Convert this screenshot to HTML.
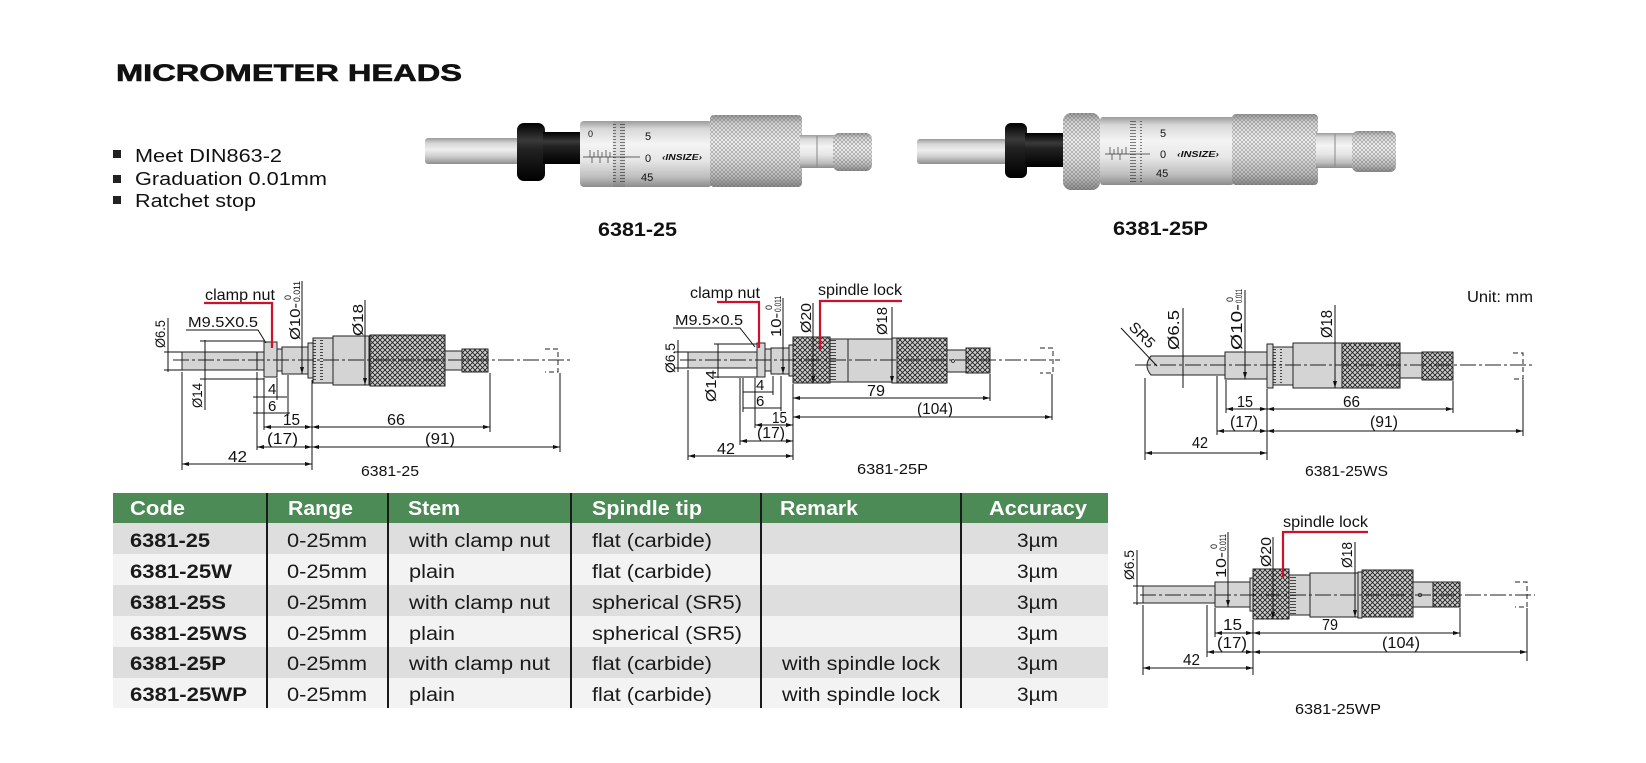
<!DOCTYPE html>
<html><head><meta charset="utf-8"><style>
html,body{margin:0;padding:0;background:#fff;}
svg{display:block}
text{font-family:"Liberation Sans",Arial,sans-serif;fill:#111}
.o{fill:#d4d4d4;stroke:#222;stroke-width:1}
.k{fill:url(#kn);stroke:#222;stroke-width:1}
.l{stroke:#111;stroke-width:1;fill:none}
.dm{stroke:#111;stroke-width:1;fill:none;marker-start:url(#ar);marker-end:url(#ar)}
.de{stroke:#111;stroke-width:1;fill:none;marker-end:url(#ar)}
.cl{stroke:#222;stroke-width:.9;stroke-dasharray:16 3 3 3;fill:none}
.rd{stroke:#d0102a;stroke-width:2.2;fill:none}
.ds{stroke:#222;stroke-width:1;stroke-dasharray:5 3;fill:none}
.th{fill:#fff;font-weight:bold;font-size:20px}
.tc{font-size:19px;fill:#1a1a1a}
.tb{font-size:19px;font-weight:bold;fill:#1a1a1a}
</style></head><body>
<svg width="1646" height="763" viewBox="0 0 1646 763" xmlns="http://www.w3.org/2000/svg">
<defs>
<marker id="ar" viewBox="0 0 7 4" refX="7" refY="2" markerWidth="7" markerHeight="4" markerUnits="userSpaceOnUse" orient="auto-start-reverse"><path d="M0,0L7,2L0,4z" fill="#111"/></marker>
<pattern id="kn" width="5" height="5" patternUnits="userSpaceOnUse"><rect width="5" height="5" fill="#cfcfcf"/><path d="M0,0L5,5M5,0L0,5" stroke="#222" stroke-width="0.9"/></pattern>
<pattern id="tk" width="10" height="3" patternUnits="userSpaceOnUse"><line x1="0" y1="1.5" x2="6" y2="1.5" stroke="#222" stroke-width="0.8"/></pattern>
<pattern id="pk" width="4" height="4" patternUnits="userSpaceOnUse"><path d="M0,0L4,4M4,0L0,4" stroke="#5a5a5a" stroke-width="0.6" stroke-opacity="0.6"/></pattern>
<linearGradient id="gs" x1="0" y1="0" x2="0" y2="1"><stop offset="0" stop-color="#9c9c9c"/><stop offset="0.12" stop-color="#d8d8d8"/><stop offset="0.35" stop-color="#f4f4f4"/><stop offset="0.6" stop-color="#e6e6e6"/><stop offset="0.85" stop-color="#bdbdbd"/><stop offset="1" stop-color="#8c8c8c"/></linearGradient>
<linearGradient id="gr" x1="0" y1="0" x2="0" y2="1"><stop offset="0" stop-color="#9a9a9a"/><stop offset="0.2" stop-color="#d6d6d6"/><stop offset="0.45" stop-color="#eeeeee"/><stop offset="0.7" stop-color="#cfcfcf"/><stop offset="1" stop-color="#8e8e8e"/></linearGradient>
<linearGradient id="gb" x1="0" y1="0" x2="0" y2="1"><stop offset="0" stop-color="#000"/><stop offset="0.3" stop-color="#3a3a3a"/><stop offset="0.45" stop-color="#222"/><stop offset="1" stop-color="#000"/></linearGradient>
</defs>

<!-- Title & bullets -->
<text x="116" y="81" font-size="24" font-weight="bold" stroke="#111" stroke-width="0.6" textLength="346" lengthAdjust="spacingAndGlyphs">MICROMETER HEADS</text>
<rect x="113" y="150" width="8" height="8" fill="#222"/>
<rect x="113" y="175" width="8" height="8" fill="#222"/>
<rect x="113" y="196" width="8" height="8" fill="#222"/>
<text x="135" y="162" font-size="18" textLength="147" lengthAdjust="spacingAndGlyphs">Meet DIN863-2</text>
<text x="135" y="185" font-size="18" textLength="192" lengthAdjust="spacingAndGlyphs">Graduation 0.01mm</text>
<text x="135" y="207" font-size="18" textLength="121" lengthAdjust="spacingAndGlyphs">Ratchet stop</text>

<!-- Photo 1 -->
<rect x="425" y="138" width="94" height="26" rx="3" fill="url(#gr)"/>
<rect x="517" y="123" width="28" height="58" rx="7" fill="url(#gb)"/>
<rect x="543" y="132" width="40" height="32" fill="url(#gb)"/>
<rect x="580" y="121" width="132" height="66" rx="4" fill="url(#gs)"/>
<rect x="613" y="121" width="12" height="66" fill="#000" opacity="0.06"/>
<rect x="613" y="124" width="12" height="60" fill="url(#tk)" opacity="0.7"/>
<line x1="583" y1="157" x2="640" y2="157" stroke="#333" stroke-width="0.8"/>
<path d="M590,150V157M594,152V157M598,150V157M602,152V157M606,150V157M610,152V157M592,157V163M600,157V163M608,157V163" stroke="#333" stroke-width="0.7"/>
<text x="588" y="137" font-size="9">0</text>
<text x="645" y="140" font-size="11">5</text>
<text x="645" y="162" font-size="11">0</text>
<text x="641" y="181" font-size="11">45</text>
<text x="662" y="160" font-size="8" font-weight="bold" font-style="italic" textLength="40" lengthAdjust="spacingAndGlyphs">‹INSIZE›</text>
<rect x="710" y="115" width="92" height="72" rx="4" fill="url(#gs)"/>
<rect x="710" y="115" width="92" height="72" rx="4" fill="url(#pk)"/>
<rect x="800" y="135" width="35" height="33" fill="url(#gs)"/>
<line x1="817" y1="136" x2="817" y2="167" stroke="#888" stroke-width="1"/>
<rect x="833" y="133" width="39" height="38" rx="6" fill="url(#gs)"/>
<rect x="833" y="133" width="39" height="38" rx="6" fill="url(#pk)"/>
<text x="598" y="236" font-size="19" font-weight="bold" textLength="79" lengthAdjust="spacingAndGlyphs">6381-25</text>

<!-- Photo 2 -->
<rect x="917" y="139" width="90" height="25" rx="3" fill="url(#gr)"/>
<rect x="1005" y="123" width="22" height="55" rx="6" fill="url(#gb)"/>
<rect x="1025" y="133" width="40" height="34" fill="url(#gb)"/>
<rect x="1100" y="117" width="134" height="68" rx="3" fill="url(#gs)"/>
<rect x="1063" y="113" width="37" height="77" rx="8" fill="url(#gs)"/>
<rect x="1063" y="113" width="37" height="77" rx="8" fill="url(#pk)"/>
<rect x="1130" y="120" width="12" height="62" fill="url(#tk)" opacity="0.7"/>
<line x1="1105" y1="154" x2="1150" y2="154" stroke="#333" stroke-width="0.8"/>
<path d="M1110,147V154M1114,149V154M1118,147V154M1122,149V154M1126,147V154M1112,154V160M1120,154V160" stroke="#333" stroke-width="0.7"/>
<text x="1160" y="137" font-size="11">5</text>
<text x="1160" y="158" font-size="11">0</text>
<text x="1156" y="177" font-size="11">45</text>
<text x="1177" y="157" font-size="8" font-weight="bold" font-style="italic" textLength="42" lengthAdjust="spacingAndGlyphs">‹INSIZE›</text>
<rect x="1232" y="114" width="86" height="71" rx="4" fill="url(#gs)"/>
<rect x="1232" y="114" width="86" height="71" rx="4" fill="url(#pk)"/>
<rect x="1316" y="133" width="38" height="35" fill="url(#gs)"/>
<line x1="1335" y1="134" x2="1335" y2="167" stroke="#888" stroke-width="1"/>
<rect x="1352" y="131" width="44" height="41" rx="6" fill="url(#gs)"/>
<rect x="1352" y="131" width="44" height="41" rx="6" fill="url(#pk)"/>
<text x="1113" y="235" font-size="19" font-weight="bold" textLength="95" lengthAdjust="spacingAndGlyphs">6381-25P</text>

<!-- Drawing 1: 6381-25 -->
<rect class="o" x="182" y="352" width="82" height="18"/>
<line class="l" x1="257" y1="352" x2="257" y2="370"/>
<rect class="o" x="264" y="342" width="13" height="35"/>
<rect class="o" x="277" y="349" width="5" height="22"/>
<rect class="o" x="282" y="347" width="26" height="27"/>
<rect class="o" x="308" y="343" width="5" height="35"/>
<rect class="o" x="313" y="338" width="20" height="45"/>
<rect x="313" y="339" width="10" height="43" fill="url(#tk)"/>
<rect class="o" x="333" y="336" width="36" height="49"/>
<rect class="k" x="370" y="335" width="75" height="51"/>
<rect class="o" x="445" y="351" width="17" height="19"/>
<rect class="k" x="462" y="349" width="26" height="23"/>
<path class="ds" d="M545,349H558V372H545"/>
<path class="cl" d="M173,360H570"/>
<line class="l" x1="168" y1="318" x2="168" y2="372"/>
<path class="l" d="M164,352H182M164,370H182"/>
<text transform="translate(165,348) rotate(-90)" font-size="14" textLength="28" lengthAdjust="spacingAndGlyphs">Ø6.5</text>
<path class="l" d="M200,341H264M200,379H264"/>
<line class="l" x1="205" y1="340" x2="205" y2="410"/>
<text transform="translate(202,408) rotate(-90)" font-size="14" textLength="25" lengthAdjust="spacingAndGlyphs">Ø14</text>
<text x="188" y="327" font-size="15" textLength="70" lengthAdjust="spacingAndGlyphs">M9.5X0.5</text>
<path class="l" d="M186,330H258L266,343"/>
<text x="205" y="300" font-size="16" textLength="70" lengthAdjust="spacingAndGlyphs">clamp nut</text>
<path class="rd" d="M204,303H272V348"/>
<path class="de" d="M302,281V374"/>
<g transform="translate(300,340) rotate(-90)"><text font-size="15" textLength="37" lengthAdjust="spacingAndGlyphs">Ø10-</text><text x="38" font-size="9" textLength="21" lengthAdjust="spacingAndGlyphs">0.011</text><text x="40" y="-9" font-size="9">0</text></g>
<path class="de" d="M365,300V385"/>
<text transform="translate(363,336) rotate(-90)" font-size="15" textLength="32" lengthAdjust="spacingAndGlyphs">Ø18</text>
<path class="l" d="M182,372V470M257,372V450M264,378V430M277,378V400M288,375V416M312,380V470M490,373V432M560,373V452"/>
<line class="l" x1="253" y1="397" x2="287" y2="397"/>
<text x="268" y="394" font-size="15">4</text>
<line class="l" x1="253" y1="413" x2="290" y2="413"/>
<text x="268" y="411" font-size="15">6</text>
<path class="dm" d="M264,427H312"/>
<path class="dm" d="M312,427H490"/>
<text x="283" y="425" font-size="16" textLength="17" lengthAdjust="spacingAndGlyphs">15</text>
<text x="387" y="425" font-size="16" textLength="18" lengthAdjust="spacingAndGlyphs">66</text>
<path class="dm" d="M257,447H312"/>
<path class="dm" d="M312,447H560"/>
<text x="267" y="444" font-size="16" textLength="31" lengthAdjust="spacingAndGlyphs">(17)</text>
<text x="425" y="444" font-size="16" textLength="30" lengthAdjust="spacingAndGlyphs">(91)</text>
<path class="dm" d="M182,464H312"/>
<text x="228" y="462" font-size="16" textLength="19" lengthAdjust="spacingAndGlyphs">42</text>
<text x="361" y="476" font-size="15" textLength="58" lengthAdjust="spacingAndGlyphs">6381-25</text>

<!-- Drawing 2: 6381-25P -->
<rect class="o" x="688" y="352" width="69" height="16"/>
<rect class="o" x="757" y="343" width="8" height="34"/>
<rect class="o" x="765" y="349" width="6" height="22"/>
<rect class="o" x="771" y="348" width="18" height="26"/>
<rect class="o" x="789" y="345" width="4" height="31"/>
<rect class="k" x="793" y="337" width="37" height="46"/>
<rect class="o" x="830" y="339" width="18" height="43"/>
<rect x="830" y="340" width="9" height="41" fill="url(#tk)"/>
<rect class="o" x="848" y="339" width="44" height="43"/>
<rect class="o" x="892" y="338" width="5" height="45"/>
<rect class="k" x="897" y="338" width="50" height="45"/>
<rect class="o" x="947" y="350" width="19" height="22"/>
<circle cx="953" cy="361" r="1.5" fill="none" stroke="#222" stroke-width="0.8"/>
<rect class="k" x="966" y="348" width="24" height="25"/>
<path class="ds" d="M1040,348H1053V373H1040"/>
<path class="cl" d="M680,360H1060"/>
<line class="l" x1="678" y1="340" x2="678" y2="372"/>
<path class="l" d="M674,352H688M674,368H688"/>
<text transform="translate(675,373) rotate(-90)" font-size="14" textLength="30" lengthAdjust="spacingAndGlyphs">Ø6.5</text>
<path class="l" d="M714,344H757M714,377H757"/>
<line class="l" x1="718" y1="344" x2="718" y2="378"/>
<text transform="translate(716,402) rotate(-90)" font-size="15" textLength="32" lengthAdjust="spacingAndGlyphs">Ø14</text>
<text x="675" y="325" font-size="15" textLength="68" lengthAdjust="spacingAndGlyphs">M9.5×0.5</text>
<path class="l" d="M673,328H740L755,347"/>
<text x="690" y="298" font-size="16" textLength="70" lengthAdjust="spacingAndGlyphs">clamp nut</text>
<path class="rd" d="M717,302H759V348"/>
<text x="818" y="295" font-size="16" textLength="84" lengthAdjust="spacingAndGlyphs">spindle lock</text>
<path class="rd" d="M902,301H820V350"/>
<path class="de" d="M783,298V374"/>
<g transform="translate(781,337) rotate(-90)"><text font-size="15" textLength="24" lengthAdjust="spacingAndGlyphs">10-</text><text x="25" font-size="9" textLength="16" lengthAdjust="spacingAndGlyphs">0.011</text><text x="27" y="-9" font-size="9">0</text></g>
<path class="de" d="M813,303V383"/>
<text transform="translate(811,333) rotate(-90)" font-size="15" textLength="30" lengthAdjust="spacingAndGlyphs">Ø20</text>
<path class="de" d="M892,307V383"/>
<text transform="translate(887,335) rotate(-90)" font-size="15" textLength="28" lengthAdjust="spacingAndGlyphs">Ø18</text>
<path class="l" d="M688,370V460M740,378V445M743,378V412M755,378V428M773,376V395M781,376V411M793,384V460M990,374V401M1052,374V420"/>
<line class="l" x1="743" y1="392" x2="773" y2="392"/>
<text x="756" y="390" font-size="15">4</text>
<line class="l" x1="743" y1="408" x2="781" y2="408"/>
<text x="756" y="406" font-size="15">6</text>
<path class="dm" d="M755,425H793"/>
<text x="772" y="423" font-size="16" textLength="15" lengthAdjust="spacingAndGlyphs">15</text>
<path class="dm" d="M793,398H990"/>
<text x="867" y="396" font-size="16" textLength="18" lengthAdjust="spacingAndGlyphs">79</text>
<path class="dm" d="M793,417H1052"/>
<text x="917" y="414" font-size="16" textLength="36" lengthAdjust="spacingAndGlyphs">(104)</text>
<path class="dm" d="M740,441H793"/>
<text x="757" y="438" font-size="16" textLength="28" lengthAdjust="spacingAndGlyphs">(17)</text>
<path class="dm" d="M688,456H793"/>
<text x="717" y="454" font-size="16" textLength="18" lengthAdjust="spacingAndGlyphs">42</text>
<text x="857" y="474" font-size="15" textLength="71" lengthAdjust="spacingAndGlyphs">6381-25P</text>

<!-- Drawing 3: 6381-25WS -->
<text x="1467" y="302" font-size="16" textLength="66" lengthAdjust="spacingAndGlyphs">Unit: mm</text>
<path class="o" d="M1151,356H1225V375H1151Q1143,365.5 1151,356Z"/>
<rect class="o" x="1225" y="352" width="42" height="27"/>
<rect class="o" x="1267" y="344" width="6" height="44"/>
<rect class="o" x="1273" y="347" width="20" height="38"/>
<rect x="1273" y="348" width="9" height="36" fill="url(#tk)"/>
<rect class="o" x="1293" y="343" width="49" height="45"/>
<rect class="k" x="1342" y="343" width="58" height="45"/>
<rect class="o" x="1400" y="353" width="22" height="25"/>
<rect class="k" x="1422" y="352" width="31" height="28"/>
<path class="ds" d="M1513,353H1523V379H1513"/>
<path class="cl" d="M1135,365H1532"/>
<path class="l" d="M1121,328L1157,366"/>
<text transform="translate(1128,328) rotate(45)" font-size="15" textLength="30" lengthAdjust="spacingAndGlyphs">SR5</text>
<path class="l" d="M1183,308V388"/>
<text transform="translate(1179,350) rotate(-90)" font-size="16" textLength="40" lengthAdjust="spacingAndGlyphs">Ø6.5</text>
<path class="de" d="M1245,290V379"/>
<g transform="translate(1242,350) rotate(-90)"><text font-size="16" textLength="46" lengthAdjust="spacingAndGlyphs">Ø10-</text><text x="47" font-size="9" textLength="14" lengthAdjust="spacingAndGlyphs">0.011</text><text x="48" y="-9" font-size="9">0</text></g>
<path class="de" d="M1335,305V388"/>
<text transform="translate(1332,338) rotate(-90)" font-size="16" textLength="28" lengthAdjust="spacingAndGlyphs">Ø18</text>
<path class="l" d="M1145,378V460M1217,376V435M1226,380V413M1267,389V460M1453,381V413M1523,380V436"/>
<path class="dm" d="M1226,409H1267"/>
<path class="dm" d="M1267,409H1453"/>
<text x="1237" y="407" font-size="16" textLength="16" lengthAdjust="spacingAndGlyphs">15</text>
<text x="1343" y="407" font-size="16" textLength="17" lengthAdjust="spacingAndGlyphs">66</text>
<path class="dm" d="M1217,431H1267"/>
<path class="dm" d="M1267,431H1523"/>
<text x="1230" y="427" font-size="16" textLength="28" lengthAdjust="spacingAndGlyphs">(17)</text>
<text x="1370" y="427" font-size="16" textLength="28" lengthAdjust="spacingAndGlyphs">(91)</text>
<path class="dm" d="M1145,453H1267"/>
<text x="1192" y="448" font-size="16" textLength="16" lengthAdjust="spacingAndGlyphs">42</text>
<text x="1305" y="476" font-size="15" textLength="83" lengthAdjust="spacingAndGlyphs">6381-25WS</text>

<!-- Drawing 4: 6381-25WP -->
<rect class="o" x="1143" y="586" width="72" height="17"/>
<rect class="o" x="1215" y="582" width="35" height="25"/>
<rect class="o" x="1250" y="578" width="3" height="33"/>
<rect class="k" x="1253" y="569" width="36" height="50"/>
<rect class="o" x="1289" y="575" width="21" height="40"/>
<rect x="1289" y="576" width="9" height="38" fill="url(#tk)"/>
<rect class="o" x="1310" y="573" width="48" height="44"/>
<rect class="o" x="1358" y="572" width="4" height="46"/>
<rect class="k" x="1362" y="570" width="51" height="47"/>
<rect class="o" x="1413" y="582" width="20" height="25"/>
<circle cx="1420" cy="595" r="1.6" fill="none" stroke="#222" stroke-width="0.8"/>
<rect class="k" x="1433" y="582" width="27" height="25"/>
<path class="ds" d="M1515,582H1527V607H1515"/>
<path class="cl" d="M1140,595H1535"/>
<text x="1283" y="527" font-size="16" textLength="85" lengthAdjust="spacingAndGlyphs">spindle lock</text>
<path class="rd" d="M1368,532H1283V578"/>
<path class="l" d="M1137,550V605M1133,586H1143M1133,603H1143"/>
<text transform="translate(1134,580) rotate(-90)" font-size="14" textLength="30" lengthAdjust="spacingAndGlyphs">Ø6.5</text>
<path class="de" d="M1228,532V607"/>
<g transform="translate(1226,578) rotate(-90)"><text font-size="15" textLength="26" lengthAdjust="spacingAndGlyphs">10-</text><text x="27" font-size="9" textLength="17" lengthAdjust="spacingAndGlyphs">0.011</text><text x="29" y="-9" font-size="9">0</text></g>
<path class="de" d="M1273,537V619"/>
<text transform="translate(1271,567) rotate(-90)" font-size="15" textLength="30" lengthAdjust="spacingAndGlyphs">Ø20</text>
<path class="de" d="M1355,542V617"/>
<text transform="translate(1352,568) rotate(-90)" font-size="15" textLength="26" lengthAdjust="spacingAndGlyphs">Ø18</text>
<path class="l" d="M1143,605V675M1207,605V657M1215,608V637M1253,620V675M1460,608V637M1527,608V661"/>
<path class="dm" d="M1215,633H1253"/>
<path class="dm" d="M1253,633H1460"/>
<text x="1223" y="630" font-size="16" textLength="19" lengthAdjust="spacingAndGlyphs">15</text>
<text x="1322" y="630" font-size="16" textLength="16" lengthAdjust="spacingAndGlyphs">79</text>
<path class="dm" d="M1207,652H1253"/>
<path class="dm" d="M1253,652H1527"/>
<text x="1217" y="648" font-size="16" textLength="30" lengthAdjust="spacingAndGlyphs">(17)</text>
<text x="1382" y="648" font-size="16" textLength="38" lengthAdjust="spacingAndGlyphs">(104)</text>
<path class="dm" d="M1143,668H1253"/>
<text x="1183" y="665" font-size="16" textLength="17" lengthAdjust="spacingAndGlyphs">42</text>
<text x="1295" y="714" font-size="15" textLength="86" lengthAdjust="spacingAndGlyphs">6381-25WP</text>

<!-- Table -->
<rect x="113" y="493" width="995" height="30" fill="#4c8a56"/>
<rect x="113" y="523" width="995" height="31" fill="#dedede"/>
<rect x="113" y="554" width="995" height="31" fill="#f3f3f3"/>
<rect x="113" y="585" width="995" height="31" fill="#dedede"/>
<rect x="113" y="616" width="995" height="31" fill="#f3f3f3"/>
<rect x="113" y="647" width="995" height="31" fill="#dedede"/>
<rect x="113" y="678" width="995" height="30" fill="#f3f3f3"/>
<path d="M267,493V708M388,493V708M571,493V708M761,493V708M961,493V708" stroke="#1a1a1a" stroke-width="2"/>

<text class="th" x="130" y="515" textLength="55" lengthAdjust="spacingAndGlyphs">Code</text>
<text class="th" x="288" y="515" textLength="65" lengthAdjust="spacingAndGlyphs">Range</text>
<text class="th" x="408" y="515" textLength="52" lengthAdjust="spacingAndGlyphs">Stem</text>
<text class="th" x="592" y="515" textLength="110" lengthAdjust="spacingAndGlyphs">Spindle tip</text>
<text class="th" x="780" y="515" textLength="78" lengthAdjust="spacingAndGlyphs">Remark</text>
<text class="th" x="989" y="515" textLength="98" lengthAdjust="spacingAndGlyphs">Accuracy</text>

<text class="tb" x="130" y="547" textLength="80" lengthAdjust="spacingAndGlyphs">6381-25</text>
<text class="tc" x="287" y="547" textLength="80" lengthAdjust="spacingAndGlyphs">0-25mm</text>
<text class="tc" x="409" y="547" textLength="141" lengthAdjust="spacingAndGlyphs">with clamp nut</text>
<text class="tc" x="592" y="547" textLength="120" lengthAdjust="spacingAndGlyphs">flat (carbide)</text>
<text class="tc" x="1017" y="547" textLength="41" lengthAdjust="spacingAndGlyphs">3µm</text>

<text class="tb" x="130" y="578" textLength="102" lengthAdjust="spacingAndGlyphs">6381-25W</text>
<text class="tc" x="287" y="578" textLength="80" lengthAdjust="spacingAndGlyphs">0-25mm</text>
<text class="tc" x="409" y="578" textLength="46" lengthAdjust="spacingAndGlyphs">plain</text>
<text class="tc" x="592" y="578" textLength="120" lengthAdjust="spacingAndGlyphs">flat (carbide)</text>
<text class="tc" x="1017" y="578" textLength="41" lengthAdjust="spacingAndGlyphs">3µm</text>

<text class="tb" x="130" y="609" textLength="96" lengthAdjust="spacingAndGlyphs">6381-25S</text>
<text class="tc" x="287" y="609" textLength="80" lengthAdjust="spacingAndGlyphs">0-25mm</text>
<text class="tc" x="409" y="609" textLength="141" lengthAdjust="spacingAndGlyphs">with clamp nut</text>
<text class="tc" x="592" y="609" textLength="150" lengthAdjust="spacingAndGlyphs">spherical (SR5)</text>
<text class="tc" x="1017" y="609" textLength="41" lengthAdjust="spacingAndGlyphs">3µm</text>

<text class="tb" x="130" y="640" textLength="117" lengthAdjust="spacingAndGlyphs">6381-25WS</text>
<text class="tc" x="287" y="640" textLength="80" lengthAdjust="spacingAndGlyphs">0-25mm</text>
<text class="tc" x="409" y="640" textLength="46" lengthAdjust="spacingAndGlyphs">plain</text>
<text class="tc" x="592" y="640" textLength="150" lengthAdjust="spacingAndGlyphs">spherical (SR5)</text>
<text class="tc" x="1017" y="640" textLength="41" lengthAdjust="spacingAndGlyphs">3µm</text>

<text class="tb" x="130" y="670" textLength="96" lengthAdjust="spacingAndGlyphs">6381-25P</text>
<text class="tc" x="287" y="670" textLength="80" lengthAdjust="spacingAndGlyphs">0-25mm</text>
<text class="tc" x="409" y="670" textLength="141" lengthAdjust="spacingAndGlyphs">with clamp nut</text>
<text class="tc" x="592" y="670" textLength="120" lengthAdjust="spacingAndGlyphs">flat (carbide)</text>
<text class="tc" x="782" y="670" textLength="158" lengthAdjust="spacingAndGlyphs">with spindle lock</text>
<text class="tc" x="1017" y="670" textLength="41" lengthAdjust="spacingAndGlyphs">3µm</text>

<text class="tb" x="130" y="701" textLength="117" lengthAdjust="spacingAndGlyphs">6381-25WP</text>
<text class="tc" x="287" y="701" textLength="80" lengthAdjust="spacingAndGlyphs">0-25mm</text>
<text class="tc" x="409" y="701" textLength="46" lengthAdjust="spacingAndGlyphs">plain</text>
<text class="tc" x="592" y="701" textLength="120" lengthAdjust="spacingAndGlyphs">flat (carbide)</text>
<text class="tc" x="782" y="701" textLength="158" lengthAdjust="spacingAndGlyphs">with spindle lock</text>
<text class="tc" x="1017" y="701" textLength="41" lengthAdjust="spacingAndGlyphs">3µm</text>
</svg>
</body></html>
